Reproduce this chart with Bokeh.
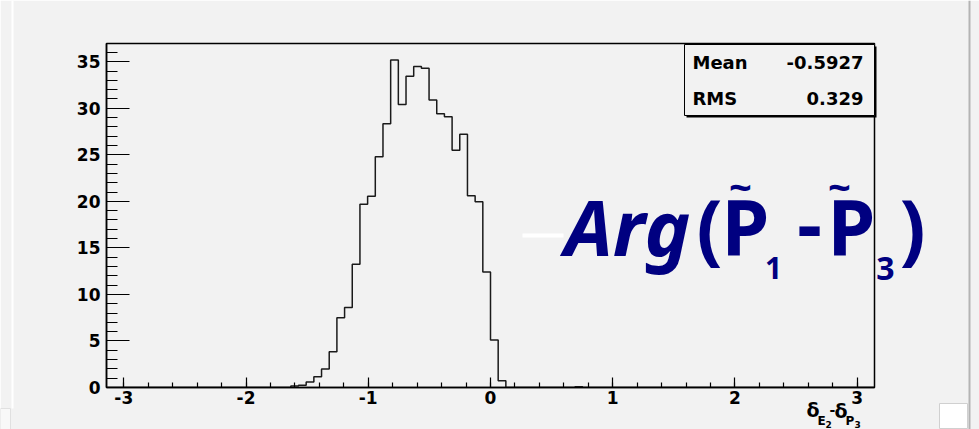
import numpy as np
from bokeh.plotting import figure
from bokeh.models import (Range1d, SingleIntervalTicker, Label, BoxAnnotation,
                          CustomJSTickFormatter)
from bokeh.embed import file_html
from bokeh.resources import INLINE

# ---- histogram data: 100 equal bins over [-pi, pi] ----
n_bins = 100
x_lo, x_hi = -np.pi, np.pi
counts = ([0.0] * 24 +
          [0.17, 0.25, 0.6, 1.15, 2.0, 3.85, 7.5, 8.6, 13.25, 19.7,
           20.55, 24.8, 28.35, 35.2, 30.4, 33.45, 34.5, 34.3, 30.9, 29.4,
           29.1, 25.5, 27.2, 20.6, 19.95, 12.4, 5.1, 0.72] +
          [0.0] * 9 + [0.08] + [0.0] * 38)
y_max = 1.05 * max(counts)

# statistics box entries
stat_names = ["Mean", "RMS"]
stat_values = ["-0.5927", "0.329"]

# ---- canvas geometry (pixels) ----
W, H = 979, 429
FL, FR, FT, FB = 106, 874, 43, 387
BG = "#f2f2f2"
NAVY = "#000080"

# ---------------- main histogram figure ----------------
p = figure(width=W, height=H,
           x_range=Range1d(x_lo, x_hi), y_range=Range1d(0, y_max),
           output_backend="svg", toolbar_location=None,
           min_border_left=FL, min_border_right=W - FR,
           min_border_top=FT, min_border_bottom=H - FB,
           background_fill_color=BG, border_fill_color=BG,
           outline_line_color="black", outline_line_width=1.5)
p.grid.visible = False

p.xaxis.ticker = SingleIntervalTicker(interval=1, num_minor_ticks=5)
p.yaxis.ticker = SingleIntervalTicker(interval=5, num_minor_ticks=5)
p.xaxis.formatter = CustomJSTickFormatter(code="return tick.toFixed(0)")
for ax in (p.xaxis, p.yaxis):
    ax.axis_line_color = "black"
    ax.axis_line_width = 1.5
    ax.major_tick_line_color = "black"
    ax.minor_tick_line_color = "black"
    ax.major_tick_line_width = 1.2
    ax.minor_tick_line_width = 1.2
    ax.major_tick_out = 0
    ax.minor_tick_out = 0
    ax.major_label_text_font = "DejaVu Sans"
    ax.major_label_text_font_style = "bold"
    ax.major_label_text_font_size = "17px"
    ax.major_label_text_color = "black"
p.yaxis.major_tick_in = 23
p.yaxis.minor_tick_in = 11
p.yaxis.major_label_standoff = 6
p.xaxis.major_tick_in = 10
p.xaxis.minor_tick_in = 5
p.xaxis.major_label_standoff = 3

# histogram outline
edges = np.linspace(x_lo, x_hi, n_bins + 1)
p.step(edges, counts + [counts[-1]], mode="after",
       line_color="#1a1a1a", line_width=1.5)

# ---------------- overlay in canvas pixels (for text outside the frame) ----------------
ov = figure(width=W, height=H, x_range=Range1d(0, W), y_range=Range1d(H, 0),
            output_backend="svg", toolbar_location=None, min_border=0,
            x_axis_location=None, y_axis_location=None,
            background_fill_alpha=0, border_fill_alpha=0, outline_line_color=None,
            styles={"position": "absolute", "top": "0px", "left": "0px"})
ov.grid.visible = False

BASE_K = 0.38  # label anchor offset relative to the glyph baseline (fraction of size)


def put(text, x, base, size, font, style="bold", align="left", color="black"):
    ov.add_layout(Label(x=x, y=base - BASE_K * size, text=text, text_align=align,
                        text_baseline="alphabetic", text_font=font,
                        text_font_style=style, text_font_size=f"{size}px",
                        text_color=color))


def box(l, r, t, b, fill, line=None, lw=1):
    ov.add_layout(BoxAnnotation(left=l, right=r, top=t, bottom=b,
                                fill_color=fill, fill_alpha=1,
                                line_color=line, line_alpha=1 if line else 0,
                                line_width=lw))


# window edge decorations
box(11, 13, 0, 408, "white")
box(968, 970, 0, H, "#b4b4b4")
box(939, 967, 403, 428, "white", "#d0d0d0")
box(0, 10, 408, H, "#f8f8f8", "#e0e0e0")

# statistics box with shadow
box(686, 876, 46, 117, "black")
box(684, 874, 44, 115, BG, "black")
for i, (name, val) in enumerate(zip(stat_names, stat_values)):
    base = 68.5 + i * 36.5
    put(name, 692, base, 18, "DejaVu Sans")
    put(val, 863, base, 18, "DejaVu Sans", align="right")

# x-axis title: delta_{E2} - delta_{P3}
for txt, px, py, size in [("δ", 806, 417, 19), ("E", 817, 425, 12), ("2", 825, 427, 9),
                          ("-", 829, 415, 14),
                          ("δ", 834, 418, 19), ("P", 845, 425, 12), ("3", 854, 427, 9)]:
    put(txt, px, py, size, "DejaVu Sans")

# white dash in front of the big annotation
box(522, 563, 233, 237, "white")

# big annotation: Arg(P~_1 - P~_3)
put("Arg", 564, 255, 77, "Noto Sans", style="bold italic", color=NAVY)
for txt, px, py, size in [("(", 709, 255, 77), ("P", 745, 255, 77), ("~", 740, 201, 40),
                          ("1", 773, 279, 30), ("-", 809, 253, 77), ("P", 851, 255, 77),
                          ("~", 839, 201, 40), ("3", 885, 280, 32), (")", 912, 255, 77)]:
    put(txt, px, py, size, "Noto Sans", align="center", color=NAVY)

open("out.html", "w").write(file_html([p, ov], INLINE))
